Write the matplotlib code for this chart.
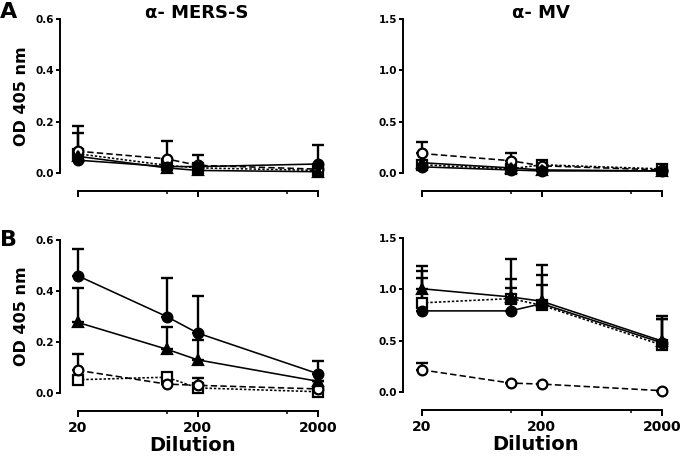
import numpy as np
from matplotlib import pyplot as plt
from matplotlib.ticker import FixedLocator, NullFormatter

plt.rcParams['font.family'] = ['DejaVu Sans']
plt.rcParams['font.weight'] = 'bold'

# Dilutions (log axis)
dilution = [20, 110, 200, 2000]
x_ticks = [20, 200, 2000]
x_minor = [110, 1100]

# series: filled circle (solid), filled triangle (solid),
# open circle (dashed), open square (dotted)
# panel A, alpha-MERS-S
a_mers_circle = [0.050, 0.025, 0.025, 0.035]
a_mers_circle_err = [0.0, 0.0, 0.045, 0.075]
a_mers_tri = [0.065, 0.020, 0.010, 0.005]
a_mers_tri_err = [0.0, 0.0, 0.0, 0.0]
a_mers_ocircle = [0.085, 0.055, 0.030, 0.015]
a_mers_ocircle_err = [0.100, 0.070, 0.0, 0.0]
a_mers_osquare = [0.075, 0.030, 0.020, 0.010]
a_mers_osquare_err = [0.080, 0.0, 0.0, 0.0]

# panel A, alpha-MV
a_mv_circle = [0.060, 0.030, 0.020, 0.020]
a_mv_circle_err = [0.0, 0.0, 0.0, 0.0]
a_mv_tri = [0.100, 0.050, 0.030, 0.020]
a_mv_tri_err = [0.0, 0.0, 0.0, 0.0]
a_mv_ocircle = [0.190, 0.120, 0.070, 0.030]
a_mv_ocircle_err = [0.110, 0.075, 0.0, 0.0]
a_mv_osquare = [0.080, 0.040, 0.080, 0.040]
a_mv_osquare_err = [0.0, 0.0, 0.040, 0.0]

# panel B, alpha-MERS-S
b_mers_circle = [0.460, 0.300, 0.235, 0.076]
b_mers_circle_err = [0.103, 0.150, 0.145, 0.051]
b_mers_tri = [0.277, 0.172, 0.130, 0.046]
b_mers_tri_err = [0.133, 0.085, 0.079, 0.0]
b_mers_ocircle = [0.089, 0.035, 0.030, 0.016]
b_mers_ocircle_err = [0.065, 0.0, 0.029, 0.0]
b_mers_osquare = [0.052, 0.062, 0.020, 0.005]
b_mers_osquare_err = [0.0, 0.0, 0.0, 0.0]

# panel B, alpha-MV
b_mv_circle = [0.790, 0.790, 0.860, 0.480]
b_mv_circle_err = [0.320, 0.220, 0.280, 0.230]
b_mv_tri = [1.006, 0.926, 0.884, 0.497]
b_mv_tri_err = [0.220, 0.374, 0.356, 0.243]
b_mv_ocircle = [0.216, 0.087, 0.077, 0.013]
b_mv_ocircle_err = [0.064, 0.0, 0.0, 0.0]
b_mv_osquare = [0.868, 0.910, 0.845, 0.458]
b_mv_osquare_err = [0.309, 0.187, 0.195, 0.250]

W, H = 680, 459


def box(left, top, right, bottom):
    return [left / W, (H - bottom) / H, (right - left) / W, (bottom - top) / H]


def draw_series(ax, y, err, marker, ls, filled, ms=7.0):
    face = 'black' if filled else 'white'
    lo = np.zeros(len(y))
    ax.errorbar(dilution, y, yerr=[lo, err], fmt='none', ecolor='black',
                elinewidth=1.7, capsize=4, capthick=1.7, clip_on=False,
                zorder=2)
    ax.plot(dilution, y, color='black', lw=1.15, linestyle=ls, marker=marker,
            markersize=ms, markerfacecolor=face, markeredgecolor='black',
            markeredgewidth=1.6, clip_on=False, zorder=3)


def style_axis(ax, ymax, yticks, xlim, show_xlabels):
    ax.set_xscale('log')
    ax.set_xlim(*xlim)
    ax.set_ylim(0, ymax)
    ax.set_yticks(yticks)
    ax.set_yticklabels(['%.1f' % t for t in yticks], fontsize=7.5, fontweight='bold')
    ax.xaxis.set_major_locator(FixedLocator(x_ticks))
    ax.xaxis.set_minor_locator(FixedLocator(x_minor))
    ax.xaxis.set_minor_formatter(NullFormatter())
    if show_xlabels:
        ax.set_xticklabels([str(t) for t in x_ticks], fontsize=10, fontweight='bold')
    else:
        ax.set_xticklabels([])
    for s in ['top', 'right']:
        ax.spines[s].set_visible(False)
    ax.spines['bottom'].set_position(('outward', 13))
    ax.spines['bottom'].set_bounds(20, 2000)
    ax.spines['left'].set_linewidth(1.4)
    ax.spines['bottom'].set_linewidth(1.4)
    ax.tick_params(axis='y', direction='out', length=3, width=1.4, pad=1)
    ax.tick_params(axis='x', which='major', direction='out', length=4, width=1.4, pad=3)
    ax.tick_params(axis='x', which='minor', direction='out', length=2.5, width=1.1)
    ax.patch.set_alpha(0)


def draw_panel(ax, sets):
    (c, ce), (t, te), (oc, oce), (osq, osqe) = sets
    draw_series(ax, osq, osqe, 's', (0, (1.5, 1.2)), False, 6.5)
    draw_series(ax, oc, oce, 'o', (0, (4, 2)), False)
    draw_series(ax, t, te, '^', '-', True, 7.5)
    draw_series(ax, c, ce, 'o', '-', True)


fig = plt.figure(figsize=(W / 100, H / 100), dpi=100)

ax_a1 = fig.add_axes(box(60, 19, 325, 173))
ax_a2 = fig.add_axes(box(403, 19, 668, 173))
ax_b1 = fig.add_axes(box(60, 240, 325, 393))
ax_b2 = fig.add_axes(box(403, 238, 668, 392))

draw_panel(ax_a1, [(a_mers_circle, a_mers_circle_err), (a_mers_tri, a_mers_tri_err),
                   (a_mers_ocircle, a_mers_ocircle_err), (a_mers_osquare, a_mers_osquare_err)])
draw_panel(ax_a2, [(a_mv_circle, a_mv_circle_err), (a_mv_tri, a_mv_tri_err),
                   (a_mv_ocircle, a_mv_ocircle_err), (a_mv_osquare, a_mv_osquare_err)])
draw_panel(ax_b1, [(b_mers_circle, b_mers_circle_err), (b_mers_tri, b_mers_tri_err),
                   (b_mers_ocircle, b_mers_ocircle_err), (b_mers_osquare, b_mers_osquare_err)])
draw_panel(ax_b2, [(b_mv_circle, b_mv_circle_err), (b_mv_tri, b_mv_tri_err),
                   (b_mv_ocircle, b_mv_ocircle_err), (b_mv_osquare, b_mv_osquare_err)])

mers_ticks = [0.0, 0.2, 0.4, 0.6]
mv_ticks = [0.0, 0.5, 1.0, 1.5]
xlim_left = (14.24, 2300)
xlim_right = (13.97, 2255)
style_axis(ax_a1, 0.6, mers_ticks, xlim_left, False)
style_axis(ax_a2, 1.5, mv_ticks, xlim_right, False)
style_axis(ax_b1, 0.6, mers_ticks, xlim_left, True)
style_axis(ax_b2, 1.5, mv_ticks, xlim_right, True)

ax_a1.set_ylabel('OD 405 nm', fontsize=11.5, fontweight='bold', labelpad=5)
ax_b1.set_ylabel('OD 405 nm', fontsize=11.5, fontweight='bold', labelpad=5)
ax_b1.set_xlabel('Dilution', fontsize=14, fontweight='bold', labelpad=1)
ax_b2.set_xlabel('Dilution', fontsize=14, fontweight='bold', labelpad=1)

fig.text(197 / W, 1 - 13 / H, 'α- MERS-S', fontsize=13, fontweight='bold',
         ha='center', va='center')
fig.text(541 / W, 1 - 13 / H, 'α- MV', fontsize=13, fontweight='bold',
         ha='center', va='center')
fig.text(0, 1 - 12 / H, 'A', fontsize=16, fontweight='bold', ha='left', va='center')
fig.text(0, 1 - 240 / H, 'B', fontsize=16, fontweight='bold', ha='left', va='center')

fig.savefig('out.png', dpi=100)
